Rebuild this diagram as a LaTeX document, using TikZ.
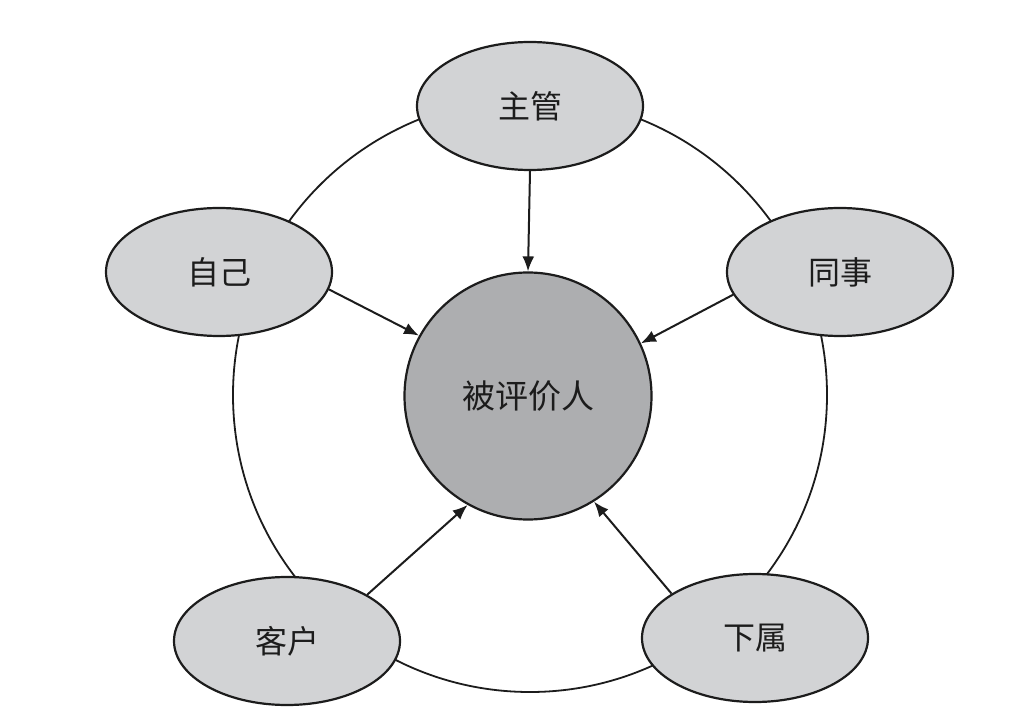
\documentclass[tikz,border=0pt]{standalone}
\usepackage{fontspec}
\newfontfamily\cjk{Noto Sans CJK SC}
\usetikzlibrary{arrows.meta,shapes.geometric}
\definecolor{lightfill}{RGB}{210,211,213}
\definecolor{darkfill}{RGB}{173,174,176}
\definecolor{inkc}{RGB}{28,28,28}
\tikzset{
  outer/.style={ellipse, draw=inkc, line width=2.2pt, fill=lightfill, minimum width=226pt, minimum height=128pt, inner sep=0pt, font=\cjk\fontsize{32}{36}\selectfont, text=inkc},
  centre/.style={circle, draw=inkc, line width=2.2pt, fill=darkfill, minimum size=247pt, inner sep=0pt, font=\cjk\fontsize{33}{38}\selectfont, text=inkc},
  ringstyle/.style={circle, draw=inkc, line width=1.8pt, minimum size=594pt, inner sep=0pt},
  arr/.style={-{Latex[length=15pt,width=12pt]}, line width=2pt, draw=inkc}
}
\begin{document}
\begin{tikzpicture}[x=1pt,y=-1pt]
\useasboundingbox (0,0) rectangle (1015,727);
\node[ringstyle] (ring) at (530,395) {};
\node[centre] (ctr) at (528,396) {被评价人};
\node[outer] (zg) at (530,106) {主管};
\node[outer] (zj) at (219,272) {自己};
\node[outer] (ts) at (840,272) {同事};
\node[outer] (kh) at (287,641) {客户};
\node[outer] (xs) at (755,638) {下属};
\draw[arr] (zg.south) -- (ctr.north);
\draw[arr] (zj.-9) -- (ctr.151);
\draw[arr] (ts.-168) -- (ctr.25);
\draw[arr] (kh.30) -- (ctr.241);
\draw[arr] (xs.152) -- (ctr.-58);
\end{tikzpicture}
\end{document}
